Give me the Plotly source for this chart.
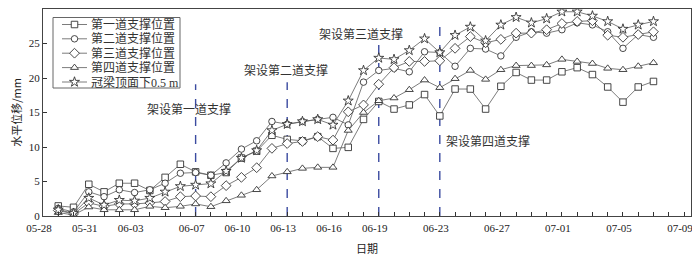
import plotly.graph_objects as go
import pandas as pd

# ---- data ----
dates = pd.date_range("2023-05-29", "2023-07-07", freq="D")

s1 = [1.46, 1.26, 4.6, 3.5, 4.75, 4.75, 3.7, 5.6, 7.5, 6.4, 5.9, 6.3, 8.4, 9.4, 11.7, 11.1, 10.9, 11.5, 9.8, 9.95,
      14.0, 16.6, 15.5, 16.1, 17.6, 14.5, 18.4, 18.4, 15.5, 18.8, 20.8, 19.7, 19.7, 20.9, 21.5, 20.5, 18.7, 16.5, 18.7, 19.5]
s2 = [1.1, 0.6, 3.5, 2.8, 3.8, 3.4, 3.8, 4.75, 6.2, 6.3, 5.9, 7.7, 9.7, 10.9, 13.7, 13.3, 13.7, 14.0, 14.3, 13.2,
      19.4, 21.1, 21.4, 20.9, 23.8, 23.7, 21.7, 24.3, 24.2, 23.2, 25.9, 26.7, 26.5, 27.0, 28.0, 27.7, 26.7, 24.3, 26.3, 25.9]
s3 = [0.8, 0.3, 1.9, 1.4, 1.75, 1.75, 1.9, 2.1, 2.8, 2.9, 2.8, 4.4, 5.6, 7.0, 9.8, 10.5, 10.8, 11.5, 11.0, 15.1,
      16.1, 19.1, 21.5, 22.4, 22.4, 22.5, 24.3, 26.0, 25.1, 25.6, 26.5, 26.5, 27.0, 27.9, 28.2, 28.3, 26.2, 25.9, 26.3, 26.7]
s4 = [0.5, 0.15, 1.3, 0.9, 0.9, 0.9, 1.4, 1.2, 1.4, 1.75, 1.35, 2.2, 3.0, 3.8, 5.8, 6.4, 6.9, 7.05, 7.05, 12.4,
      15.0, 16.7, 17.1, 18.3, 19.7, 18.6, 19.9, 21.1, 19.8, 21.2, 21.8, 21.8, 21.9, 22.7, 22.4, 22.1, 21.4, 21.2, 21.7, 22.2]
s5 = [0.9, 0.4, 2.6, 1.6, 2.3, 2.2, 2.6, 3.5, 4.3, 4.5, 4.7, 6.5, 8.4, 9.5, 12.4, 13.3, 13.7, 14.0, 13.2, 16.7,
      21.1, 22.9, 22.7, 24.0, 25.7, 23.7, 26.2, 27.4, 25.4, 27.7, 28.8, 28.0, 28.6, 29.6, 29.6, 29.0, 28.2, 27.1, 27.7, 28.2]

series_names = ["第一道支撑位置", "第二道支撑位置", "第三道支撑位置", "第四道支撑位置", "冠梁顶面下0.5 m"]
series_values = [s1, s2, s3, s4, s5]

tick_dates = ["2023-05-28", "2023-05-31", "2023-06-03", "2023-06-07", "2023-06-10", "2023-06-13", "2023-06-16",
              "2023-06-19", "2023-06-23", "2023-06-27", "2023-07-01", "2023-07-05", "2023-07-09"]
tick_labels = ["05-28", "05-31", "06-03", "06-07", "06-10", "06-13", "06-16", "06-19", "06-23", "06-27",
               "07-01", "07-05", "07-09"]

event_dates = ["2023-06-07", "2023-06-13", "2023-06-19", "2023-06-23"]
event_labels = ["架设第一道支撑", "架设第二道支撑", "架设第三道支撑", "架设第四道支撑"]

# ---- styling ----
symbols = ["square", "circle", "diamond", "triangle-up", "star"]
sizes = [6.5, 6.5, 7.5, 7, 7.5]
line_tops = [19.1, 19.4, 25.8, 28.1]
label_pos = [("2023-06-06 13:00", 15.6), ("2023-06-12 22:00", 21.2),
             ("2023-06-17 20:00", 26.4), ("2023-06-26 04:00", 11.0)]

FONT = "Liberation Serif, Noto Sans CJK SC"
CJK = "Noto Sans CJK SC"
LINE_C = "#5a5a5a"
MK_C = "#333333"

# page offset (body margin) and plot-area frame in screen pixels
OFF = 8
L, R, T, B = 43, 691, 9, 216
W, H = 700 - OFF, 259 - OFF
legend_rows = [24.5, 38.8, 53.2, 67.6, 82.0]

fig = go.Figure()

fig.add_shape(type="rect", xref="x2", yref="y2", x0=53, x1=180, y0=17.5, y1=88,
              line=dict(color="#666666", width=1), fillcolor="white", layer="below")

for name, vals, sym, sz in zip(series_names, series_values, symbols, sizes):
    fig.add_trace(go.Scatter(
        x=dates, y=vals, name=name, mode="lines+markers", showlegend=False,
        line=dict(color=LINE_C, width=0.8),
        marker=dict(symbol=sym, size=sz, color="white", line=dict(color=MK_C, width=0.9)),
    ))

for d, top in zip(event_dates, line_tops):
    fig.add_shape(type="line", xref="x", yref="y", x0=d, x1=d, y0=0, y1=top,
                  line=dict(color="#3b4ba0", width=1.4, dash="dash"), layer="below")

for lab, (px, py) in zip(event_labels, label_pos):
    fig.add_annotation(x=px, y=py, xref="x", yref="y", text=lab, showarrow=False,
                       font=dict(family=CJK, size=12, color="#333333"))

# ---- legend (drawn on a pixel-scaled overlay axis) ----
for name, sym, sz, ry in zip(series_names, symbols, sizes, legend_rows):
    fig.add_trace(go.Scatter(
        x=[62, 87], y=[ry, ry], xaxis="x2", yaxis="y2", mode="lines", showlegend=False,
        line=dict(color=LINE_C, width=0.8), hoverinfo="skip"))
    fig.add_trace(go.Scatter(
        x=[74.5], y=[ry], xaxis="x2", yaxis="y2", mode="markers", showlegend=False,
        marker=dict(symbol=sym, size=sz, color="white", line=dict(color=MK_C, width=0.9)),
        hoverinfo="skip"))
    fig.add_annotation(x=89, y=ry, xref="x2", yref="y2", text=name, showarrow=False,
                       xanchor="left", yanchor="middle",
                       font=dict(family=FONT, size=12, color="#333333"))

fig.update_layout(
    width=W, height=H,
    margin=dict(l=L - OFF, r=W - (R - OFF), t=T - OFF, b=H - (B - OFF)),
    paper_bgcolor="white", plot_bgcolor="white",
    font=dict(family=FONT, size=11, color="#222222"),
    showlegend=False,
    xaxis=dict(
        type="date", range=["2023-05-28", "2023-07-09 11:00"], automargin=False,
        tickmode="array", tickvals=tick_dates, ticktext=tick_labels,
        ticks="inside", ticklen=4, tickcolor="#333333", ticklabelshift=-4, ticklabelstandoff=2,
        minor=dict(ticks="inside", dtick=86400000, tick0="2023-05-28", ticklen=4, tickcolor="#333333"),
        showline=True, linecolor="#444444", linewidth=1, mirror=True, showgrid=False, zeroline=False,
        title=dict(text="日期", font=dict(family=CJK, size=11), standoff=12),
        tickfont=dict(family=FONT, size=11),
    ),
    yaxis=dict(
        range=[0, 30], tickmode="linear", tick0=0, dtick=5, automargin=False,
        ticks="inside", ticklen=4, tickcolor="#333333",
        showline=True, linecolor="#444444", linewidth=1, mirror=True, showgrid=False, zeroline=False,
        title=dict(text="水平位移/mm", font=dict(family=CJK, size=11), standoff=6),
        tickfont=dict(family=FONT, size=11),
    ),
    xaxis2=dict(overlaying="x", range=[L, R], visible=False, anchor="y2", fixedrange=True),
    yaxis2=dict(overlaying="y", range=[B, T], visible=False, anchor="x2", fixedrange=True),
)

fig.write_html("out.html")
